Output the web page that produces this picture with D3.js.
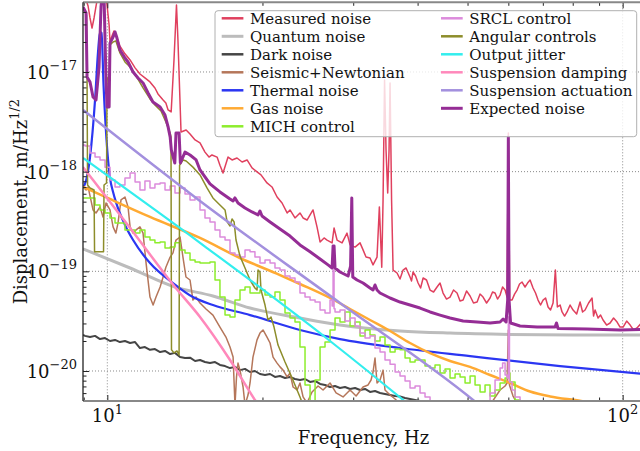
<!DOCTYPE html>
<html><head><meta charset="utf-8">
<script src="https://cdn.jsdelivr.net/npm/d3@7"></script>
<style>
html,body{margin:0;padding:0;background:#fff;}
svg{display:block;font-family:"DejaVu Serif",serif;}
</style></head><body>
<svg id="chart" width="640" height="451"></svg>
<script>
// ---------- axes / ticks ----------
const xDomain = [8.97, 110];
const yDomain = [5e-21, 5e-17];
const xTickValues = [10, 100];
const xTickExponents = ["1", "2"];
const yTickValues = [1e-20, 1e-19, 1e-18, 1e-17];
const yTickExponents = ["\u221220", "\u221219", "\u221218", "\u221217"];
const xLabel = "Frequency, Hz";
const yLabelMain = "Displacement, m/Hz";
const yLabelSup = "1/2";

// ---------- series data: [frequency Hz, displacement m/Hz^1/2] ----------
const measuredNoise = [[8.97,6.35e-17],[9.093,5.28e-17],[9.176,4.59e-17],[9.256,3.48e-17],[9.339,2.76e-17],[9.424,3.48e-17],[9.508,4.59e-17],[9.593,5.92e-17],[9.854,6.65e-17],[9.987,4.70e-17],[10.08,2.96e-17],[10.12,2.00e-17],[10.21,2.30e-17],[10.30,2.58e-17],[10.39,2.35e-17],[10.58,1.82e-17],[10.82,1.52e-17],[11.07,1.32e-17],[11.32,1.10e-17],[11.57,9.55e-18],[11.83,8.71e-18],[12.10,7.94e-18],[12.37,6.91e-18],[12.54,6.02e-18],[12.83,5.24e-18],[12.99,4.88e-18],[13.12,4.16e-18],[13.30,3.97e-18],[13.47,1.32e-17],[13.62,4.70e-17],[13.71,2.09e-17],[13.90,2.50e-18],[14.22,2.62e-18],[14.47,2.39e-18],[14.80,2.08e-18],[15.13,1.94e-18],[15.47,1.57e-18],[15.75,1.40e-18],[15.96,1.47e-18],[16.33,1.40e-18],[16.54,1.16e-18],[16.77,9.70e-19],[17.15,1.40e-18],[17.46,1.31e-18],[17.85,1.37e-18],[18.26,1.25e-18],[18.67,1.31e-18],[19.09,1.09e-18],[19.52,9.93e-19],[19.87,9.27e-19],[20.41,7.70e-19],[20.87,7.02e-19],[21.35,5.57e-19],[21.83,4.85e-19],[22.33,3.85e-19],[22.62,4.13e-19],[23.13,3.43e-19],[23.65,3.85e-19],[23.98,3.43e-19],[24.41,3.27e-19],[24.74,3.68e-19],[25.07,4.13e-19],[25.52,2.79e-19],[25.87,1.97e-19],[26.34,2.16e-19],[26.69,2.06e-19],[27.30,1.93e-19],[27.54,2.72e-19],[27.91,2.06e-19],[28.54,1.93e-19],[29.18,2.42e-19],[29.58,1.84e-19],[30.25,1.75e-19],[30.93,1.93e-19],[31.35,1.64e-19],[31.77,1.39e-19],[32.34,1.36e-19],[32.78,1.16e-19],[33.37,1.39e-19],[33.72,4.43e-19],[34.08,1.10e-19],[34.28,5.20e-19],[34.51,8.31e-18],[34.74,1.65e-18],[35.0,6.11e-19],[35.21,1.65e-18],[35.37,7.76e-18],[35.61,5.20e-19],[35.85,1.03e-19],[36.49,9.62e-20],[36.98,8.37e-20],[37.49,1.03e-19],[37.99,1.08e-19],[38.67,8.77e-20],[38.93,8.00e-20],[39.19,9.84e-20],[39.64,8.97e-20],[40.09,7.63e-20],[40.54,6.80e-20],[41.0,8.57e-20],[41.63,8.18e-20],[42.29,6.49e-20],[42.96,6.20e-20],[43.63,6.96e-20],[44.22,7.63e-20],[44.82,6.06e-20],[45.52,5.27e-20],[46.24,5.52e-20],[46.97,6.49e-20],[47.71,6.06e-20],[48.36,5.04e-20],[49.02,5.15e-20],[49.78,6.36e-20],[50.57,5.65e-20],[51.35,4.81e-20],[52.18,4.92e-20],[52.88,5.91e-20],[53.59,5.52e-20],[54.44,4.81e-20],[55.29,5.40e-20],[55.91,6.20e-20],[56.54,6.06e-20],[57.17,5.27e-20],[57.82,5.78e-20],[58.48,6.96e-20],[59.13,6.49e-20],[59.66,5.52e-20],[60.0,2.44e-18],[60.36,5.15e-20],[61.0,5.15e-20],[61.69,5.91e-20],[62.38,6.49e-20],[63.08,7.46e-20],[63.79,7.81e-20],[64.65,6.96e-20],[65.38,7.63e-20],[66.12,8.18e-20],[67.0,6.80e-20],[67.75,6.06e-20],[68.52,5.15e-20],[69.3,4.59e-20],[70.07,5.15e-20],[70.86,5.40e-20],[71.65,4.39e-20],[72.45,4.09e-20],[73.27,4.81e-20],[74.03,1.03e-19],[74.69,4.39e-20],[75.61,4.59e-20],[76.28,3.91e-20],[77.14,3.56e-20],[78.0,3.91e-20],[79.06,4.59e-20],[80.13,4.09e-20],[81.42,3.73e-20],[82.67,4.92e-20],[83.6,3.91e-20],[84.54,4.09e-20],[85.88,4.81e-20],[87.22,5.40e-20],[87.8,3.56e-20],[88.41,4.09e-20],[89.59,3.40e-20],[90.6,3.64e-20],[91.61,3.25e-20],[93.08,2.89e-20],[94.53,3.03e-20],[96.02,3.40e-20],[97.53,3.10e-20],[98.85,2.76e-20],[100.2,2.76e-20],[101.8,3.17e-20],[103.4,2.89e-20],[104.99,2.58e-20],[106.6,2.70e-20],[108.3,2.96e-20],[110,2.76e-20]];

const quantumNoise = [[8.97,1.68e-19],[11.07,1.08e-19],[13.53,6.96e-20],[16.03,5.65e-20],[18.92,4.28e-20],[23.65,3.40e-20],[28.28,2.89e-20],[36.98,2.52e-20],[46.24,2.40e-20],[60.46,2.33e-20],[80,2.30e-20],[110,2.29e-20]];

const darkNoise = [[8.971,2.30e-20],[9.051,2.25e-20],[9.256,2.19e-20],[9.466,2.25e-20],[9.679,2.09e-20],[9.898,2.14e-20],[10.12,2.00e-20],[10.35,2.05e-20],[10.58,1.95e-20],[10.82,2.00e-20],[11.07,1.91e-20],[11.32,1.95e-20],[11.57,1.70e-20],[11.83,1.74e-20],[12.10,1.63e-20],[12.37,1.66e-20],[12.66,1.55e-20],[12.94,1.59e-20],[13.24,1.48e-20],[13.53,1.52e-20],[13.84,1.38e-20],[14.15,1.35e-20],[14.47,1.36e-20],[14.80,1.26e-20],[15.13,1.29e-20],[15.47,1.23e-20],[15.82,1.20e-20],[16.18,1.23e-20],[16.54,1.15e-20],[16.92,1.12e-20],[17.30,1.07e-20],[17.69,1.10e-20],[18.09,1.02e-20],[18.50,1.05e-20],[18.92,9.77e-21],[19.34,1.00e-20],[19.78,9.33e-21],[20.23,9.12e-21],[20.69,9.33e-21],[21.15,8.71e-21],[21.63,8.91e-21],[22.12,8.51e-21],[22.62,8.71e-21],[23.13,8.31e-21],[23.65,8.12e-21],[24.19,8.31e-21],[24.74,7.76e-21],[25.30,7.94e-21],[25.87,7.41e-21],[26.45,7.24e-21],[27.05,6.91e-21],[27.66,7.07e-21],[28.28,6.75e-21],[28.92,6.91e-21],[29.58,6.60e-21],[30.25,6.75e-21],[30.93,6.45e-21],[31.63,6.60e-21],[32.34,6.16e-21],[33.07,6.30e-21],[33.82,6.02e-21],[34.58,5.88e-21],[35.37,5.74e-21],[36.17,5.61e-21],[36.98,5.55e-21],[37.82,5.36e-21],[38.67,5.24e-21],[39.55,5.12e-21],[40.44,5.00e-21],[41.35,4.78e-21],[42.29,4.57e-21]];

const seismicNewtonian = [[8.97,7.02e-19],[9.093,6.55e-19],[9.176,7.02e-19],[9.381,4.13e-19],[9.508,3.85e-19],[9.679,4.43e-19],[9.810,3.51e-19],[9.942,4.85e-19],[10.12,4.13e-19],[10.26,2.79e-19],[10.39,2.42e-19],[10.49,3.06e-19],[10.63,5.20e-19],[10.82,5.57e-19],[10.97,4.43e-19],[11.07,2.79e-19],[11.22,2.42e-19],[11.37,2.60e-19],[11.57,2.79e-19],[11.73,2.42e-19],[11.89,1.21e-19],[12.10,5.52e-20],[12.27,4.59e-20],[12.43,5.52e-20],[12.66,6.96e-20],[12.83,8.77e-20],[12.99,1.10e-19],[13.24,1.39e-19],[13.41,1.53e-19],[13.59,2.06e-19],[13.84,2.21e-19],[14.02,1.39e-19],[14.21,8.77e-20],[14.47,8.18e-20],[14.66,5.15e-20],[14.86,5.52e-20],[15.13,4.81e-20],[15.54,4.19e-20],[16.03,3.64e-20],[16.54,2.76e-20],[16.99,2.19e-20],[17.30,1.74e-20],[17.54,1.38e-20],[17.69,4.56e-21],[17.81,8.71e-21],[17.93,1.20e-20],[18.09,1.02e-20],[18.34,6.91e-21],[18.50,4.56e-21],[18.75,5.74e-21],[18.92,7.58e-21],[19.17,1.38e-20],[19.52,2.05e-20],[19.78,2.40e-20],[20.05,2.58e-20],[20.41,2.19e-20],[20.69,1.91e-20],[20.97,1.38e-20],[21.35,1.20e-20],[21.63,1.10e-20],[21.93,1.02e-20],[22.33,8.71e-21],[22.62,9.55e-21],[22.93,6.91e-21],[23.35,6.45e-21],[23.65,7.58e-21],[23.98,5.49e-21],[24.41,4.78e-21],[24.96,6.16e-21],[25.64,7.07e-21],[26.22,6.45e-21],[27.05,7.58e-21],[27.79,6.02e-21],[28.67,5.49e-21],[29.58,6.45e-21],[30.39,5.61e-21],[31.35,6.91e-21],[32.06,7.24e-21],[32.49,8.12e-21],[32.78,9.77e-21],[33.07,1.35e-20],[33.37,7.58e-21],[33.82,8.12e-21],[34.28,1.02e-20],[34.58,6.45e-21],[35.37,5.74e-21],[36.17,5.24e-21],[36.98,4.67e-21],[42.3,4.0e-21],[50.6,4.0e-21],[55.29,4.56e-21],[57.82,6.45e-21],[59.13,7.07e-21],[59.66,7.58e-21],[60.0,2.58e-20],[60.3,7.24e-21],[61.27,5.61e-21],[62.66,4.56e-21]];

const thermalNoise = [[8.97,7.0e-19],[9.051,7.53e-19],[9.256,1.40e-18],[9.466,5.24e-18],[9.593,1.59e-17],[9.679,2.52e-17],[9.744,2.46e-17],[9.832,7.41e-18],[9.964,2.08e-18],[10.12,8.65e-19],[10.26,6.26e-19],[10.39,4.97e-19],[10.82,2.92e-19],[11.22,2.06e-19],[12.10,1.21e-19],[13.41,7.63e-20],[14.66,5.52e-20],[16.03,4.59e-20],[18.92,3.64e-20],[23.65,2.58e-20],[28.28,2.09e-20],[36.98,1.70e-20],[50.57,1.41e-20],[75.61,1.12e-20],[110,9.33e-21]];

const gasNoise = [[8.97,7.02e-19],[9.81,5.70e-19],[12.10,3.51e-19],[15.13,2.16e-19],[18.09,1.36e-19],[21.63,9.18e-20],[23.65,7.46e-20],[27.05,5.40e-20],[29.58,4.19e-20],[32.34,3.25e-20],[35.37,2.52e-20],[38.67,1.91e-20],[42.29,1.51e-20],[46.24,1.26e-20],[50.57,1.10e-20],[55.29,9.12e-21],[60.46,7.58e-21],[66.12,6.23e-21],[72.30,5.55e-21],[83.04,5.00e-21],[94.53,4.35e-21]];

const michControl = [[8.971,5.45e-19],[9.051,5.45e-19],[9.256,5.45e-19],[9.466,4.63e-19],[9.679,4.13e-19],[9.898,3.85e-19],[10.12,3.43e-19],[10.35,3.06e-19],[10.58,3.06e-19],[10.82,2.60e-19],[11.07,2.60e-19],[11.32,2.42e-19],[11.57,2.60e-19],[11.83,2.21e-19],[12.10,2.06e-19],[12.37,1.93e-19],[12.66,1.97e-19],[12.94,1.71e-19],[13.24,1.75e-19],[13.53,1.93e-19],[13.84,1.64e-19],[14.15,1.53e-19],[14.47,1.30e-19],[14.80,1.24e-19],[15.13,1.21e-19],[15.47,1.21e-19],[15.82,1.24e-19],[16.18,8.18e-20],[16.54,5.52e-20],[16.92,3.64e-20],[17.30,3.48e-20],[17.69,5.15e-20],[18.09,6.49e-20],[18.50,6.96e-20],[18.92,6.06e-20],[19.34,6.06e-20],[19.78,6.49e-20],[20.23,5.78e-20],[20.69,5.52e-20],[21.15,6.20e-20],[21.63,5.15e-20],[22.12,3.82e-20],[22.62,3.40e-20],[23.13,3.10e-20],[23.65,1.74e-20],[24.19,7.24e-21],[24.74,4.56e-21],[25.30,8.12e-21],[25.87,1.74e-20],[26.45,1.95e-20],[27.05,2.58e-20],[27.66,3.40e-20],[28.28,3.10e-20],[28.92,3.91e-20],[29.58,2.83e-20],[30.25,3.10e-20],[30.93,2.25e-20],[31.63,2.58e-20],[32.34,2.30e-20],[33.07,2.00e-20],[33.82,2.19e-20],[34.58,1.82e-20],[35.37,1.55e-20],[36.17,1.66e-20],[36.98,1.63e-20],[37.82,1.35e-20],[38.67,1.23e-20],[39.55,1.29e-20],[40.44,1.29e-20],[41.35,1.12e-20],[42.29,1.07e-20],[43.24,1.15e-20],[44.22,9.55e-21],[45.22,1.05e-20],[46.24,8.51e-21],[47.29,9.33e-21],[48.36,8.71e-21],[49.45,7.58e-21],[50.57,8.91e-21],[51.71,7.24e-21],[52.88,6.16e-21],[54.07,7.24e-21],[55.29,5.61e-21],[56.54,6.45e-21],[57.82,7.58e-21],[59.13,8.51e-21],[60.0,9.55e-21],[60.46,7.76e-21],[61.83,5.12e-21],[63.22,4.1e-21]];

const srclControl = [[8.971,1.85e-18],[9.051,1.81e-18],[9.256,1.54e-18],[9.466,1.40e-18],[9.679,1.31e-18],[9.898,1.11e-18],[10.12,8.26e-19],[10.35,7.02e-19],[10.58,7.35e-19],[10.82,8.65e-19],[11.07,9.70e-19],[11.32,7.88e-19],[11.57,6.55e-19],[11.83,8.07e-19],[12.10,6.86e-19],[12.37,7.53e-19],[12.66,7.70e-19],[12.94,6.55e-19],[13.24,7.19e-19],[13.53,6.11e-19],[13.84,6.86e-19],[14.15,5.97e-19],[14.47,5.20e-19],[14.80,5.57e-19],[15.13,4.13e-19],[15.47,3.43e-19],[15.82,3.13e-19],[16.18,2.60e-19],[16.54,2.21e-19],[16.92,2.06e-19],[17.30,1.53e-19],[17.69,1.46e-19],[18.09,1.39e-19],[18.50,1.64e-19],[18.92,1.57e-19],[19.34,1.39e-19],[19.78,1.21e-19],[20.23,1.30e-19],[20.69,1.21e-19],[21.15,1.08e-19],[21.63,1.03e-19],[22.12,8.97e-20],[22.62,8.57e-20],[23.13,7.81e-20],[23.65,6.06e-20],[24.19,5.52e-20],[24.74,5.15e-20],[25.30,4.92e-20],[25.87,4.09e-20],[26.45,3.82e-20],[27.05,5.15e-20],[27.30,4.5e-20],[27.42,1.03e-19],[27.54,4.2e-20],[27.66,3.91e-20],[28.28,4.09e-20],[28.92,3.17e-20],[29.58,3.40e-20],[30.25,2.83e-20],[30.93,2.40e-20],[31.63,2.14e-20],[32.34,2.25e-20],[33.07,1.70e-20],[33.82,1.55e-20],[34.58,1.29e-20],[35.37,1.17e-20],[36.17,9.77e-21],[36.98,8.91e-21],[37.82,7.94e-21],[38.67,6.75e-21],[39.55,7.07e-21],[40.44,6.02e-21],[41.35,5.49e-21],[42.29,5.00e-21],[43.24,4.56e-21],[44.22,3.9e-21],[46.24,3.6e-21],[49.45,3.8e-21],[52.88,4.2e-21],[54.07,4.56e-21],[55.29,6.02e-21],[56.54,8.12e-21],[57.82,1.07e-20],[58.48,1.20e-20],[59.13,9.12e-21],[59.66,8.51e-21],[60.0,3.48e-20],[60.3,7.76e-21],[61.0,6.45e-21],[61.83,5.49e-21],[63.22,4.78e-21],[64.65,4.1e-21]];

const angularControls = [[8.97,4.39e-17],[9.051,4.00e-17],[9.113,3.73e-17],[9.134,8.71e-18],[9.155,7.35e-19],[9.256,6.86e-19],[9.424,6.55e-19],[9.445,1.57e-19],[9.832,1.57e-19],[9.854,7.35e-19],[9.964,7.70e-19],[9.987,8.31e-18],[10.08,9.33e-18],[10.12,1.87e-17],[10.26,2.00e-17],[10.39,2.05e-17],[10.58,1.55e-17],[10.82,1.26e-17],[11.07,1.12e-17],[11.37,9.12e-18],[11.73,6.91e-18],[12.10,5.36e-18],[12.37,4.67e-18],[12.71,4.06e-18],[12.99,3.15e-18],[13.24,2.44e-18],[13.29,2.23e-18],[13.32,1.63e-20],[13.47,1.52e-20],[13.65,1.59e-20],[13.78,1.45e-20],[13.81,1.16e-18],[14.03,1.31e-18],[14.22,1.28e-18],[14.66,1.11e-18],[15.13,9.27e-19],[15.61,6.86e-19],[16.03,5.45e-19],[16.54,4.63e-19],[16.92,4.13e-19],[17.08,3.13e-19],[17.30,2.85e-19],[17.46,3.35e-19],[17.62,3.13e-19],[17.77,2.06e-19],[18.09,1.42e-19],[18.50,1.08e-19],[18.92,8.18e-20],[19.34,6.80e-20],[19.52,6.49e-20],[19.61,1.03e-19],[19.78,9.84e-20],[19.87,6.49e-20],[20.23,4.59e-20],[20.50,3.25e-20],[20.78,3.48e-20],[21.06,2.76e-20],[21.44,1.82e-20],[22.12,1.23e-20],[22.83,8.51e-21],[23.65,5.49e-21],[24.19,4.06e-21]];

const outputJitter = [[8.97,1.37e-18],[15.13,1.93e-19],[27.05,2.00e-20],[37.49,5.12e-21],[40.44,3.70e-21]];

const suspensionDamping = [[8.97,1.11e-18],[9.381,8.26e-19],[11.07,2.72e-19],[13.53,6.96e-20],[15.13,3.48e-20],[17.30,1.29e-20],[19.34,5.12e-21],[20.23,3.62e-21]];

const suspensionActuation = [[8.97,4.16e-18],[15.13,5.08e-19],[28.28,4.81e-20],[51.25,5.12e-21],[55.29,3.7e-21]];

const expectedNoise = [[8.97,4.49e-17],[9.093,3.91e-17],[9.134,8.91e-18],[9.256,7.94e-18],[9.381,5.61e-18],[9.508,5.24e-18],[9.636,1.12e-17],[9.722,4.49e-17],[9.766,5.92e-17],[9.854,5.92e-17],[9.898,2.09e-17],[9.942,8.31e-18],[9.987,4.46e-18],[10.08,4.46e-18],[10.12,1.95e-17],[10.26,2.24e-17],[10.35,2.52e-17],[10.44,2.19e-17],[10.58,1.66e-17],[10.82,1.38e-17],[10.97,1.26e-17],[11.22,1.00e-17],[11.47,8.71e-18],[11.73,7.76e-18],[11.996,6.16e-18],[12.26,5.00e-18],[12.66,4.46e-18],[12.94,3.70e-18],[13.12,2.81e-18],[13.24,2.23e-18],[13.31,1.65e-18],[13.52,1.22e-18],[13.59,2.44e-18],[13.78,2.44e-18],[13.86,1.22e-18],[14.15,1.57e-18],[14.47,1.47e-18],[14.87,1.31e-18],[15.13,1.04e-18],[15.47,8.85e-19],[15.82,7.53e-19],[16.54,6.26e-19],[17.30,5.32e-19],[17.54,5.08e-19],[17.69,5.45e-19],[17.93,4.85e-19],[18.50,4.32e-19],[19.09,3.94e-19],[19.61,3.68e-19],[19.78,4.03e-19],[19.96,3.59e-19],[20.69,3.13e-19],[21.63,2.66e-19],[22.62,2.26e-19],[23.65,1.84e-19],[24.74,1.57e-19],[25.87,1.33e-19],[26.81,1.16e-19],[27.30,1.08e-19],[27.42,1.80e-19],[27.54,1.80e-19],[27.66,1.08e-19],[28.28,9.84e-20],[29.32,8.97e-20],[29.65,1.13e-19],[29.81,5.45e-19],[29.94,8.77e-20],[30.52,8.18e-20],[31.35,7.63e-20],[32.34,6.80e-20],[32.78,6.49e-20],[33.07,7.29e-20],[33.37,6.49e-20],[33.82,6.06e-20],[35.37,5.40e-20],[36.98,4.92e-20],[38.67,4.59e-20],[40.44,4.28e-20],[42.29,3.91e-20],[44.22,3.64e-20],[46.24,3.40e-20],[49.02,3.17e-20],[52.18,3.10e-20],[55.29,3.03e-20],[57.82,3.10e-20],[58.61,3.32e-20],[59.39,3.10e-20],[59.82,5.15e-20],[60.0,2.23e-18],[60.19,5.15e-20],[60.6,3.03e-20],[63.22,2.83e-20],[68.22,2.76e-20],[73.94,2.76e-20],[74.4,3.03e-20],[74.91,2.67e-20],[85.3,2.64e-20],[98.85,2.58e-20],[110,2.61e-20]];

// ---------- rendering ----------
const svg = d3.select("#chart");
const plotLeft = 83, plotRight = 644, plotTop = 2.3, plotBottom = 401;
const x = d3.scaleLog().domain(xDomain).range([plotLeft, plotRight]);
const y = d3.scaleLog().domain(yDomain).range([plotBottom, plotTop]);

svg.append("defs").append("clipPath").attr("id","clip")
  .append("rect").attr("x",plotLeft).attr("y",plotTop)
  .attr("width",plotRight-plotLeft).attr("height",plotBottom-plotTop);

// grid
const grid = svg.append("g");
grid.selectAll("line.gx").data(xTickValues).join("line")
  .attr("x1",d=>x(d)).attr("x2",d=>x(d)).attr("y1",plotTop).attr("y2",plotBottom)
  .attr("stroke","#8a8a8a").attr("stroke-width",1).attr("stroke-dasharray","1,2");
grid.selectAll("line.gy").data(yTickValues).join("line")
  .attr("x1",plotLeft).attr("x2",plotRight).attr("y1",d=>y(d)).attr("y2",d=>y(d))
  .attr("stroke","#8a8a8a").attr("stroke-width",1).attr("stroke-dasharray","1,2");

const series = [
  {name:"Measured noise", data:measuredNoise, color:"#e0405e", width:1.5, curve:d3.curveLinear},
  {name:"Quantum noise", data:quantumNoise, color:"#bcbcbc", width:3, curve:d3.curveMonotoneX},
  {name:"Dark noise", data:darkNoise, color:"#454545", width:2, curve:d3.curveLinear},
  {name:"Seismic+Newtonian", data:seismicNewtonian, color:"#b5765a", width:1.5, curve:d3.curveLinear},
  {name:"Thermal noise", data:thermalNoise, color:"#2b36f2", width:2.2, curve:d3.curveMonotoneX},
  {name:"Gas noise", data:gasNoise, color:"#ffaa33", width:2.5, curve:d3.curveMonotoneX},
  {name:"MICH control", data:michControl, color:"#8ded2c", width:1.5, curve:d3.curveStepAfter},
  {name:"SRCL control", data:srclControl, color:"#dc8bdc", width:1.5, curve:d3.curveStepAfter},
  {name:"Angular controls", data:angularControls, color:"#8d8d2a", width:1.5, curve:d3.curveLinear},
  {name:"Output jitter", data:outputJitter, color:"#33eeee", width:2.2, curve:d3.curveMonotoneX},
  {name:"Suspension damping", data:suspensionDamping, color:"#ff88bb", width:2.5, curve:d3.curveMonotoneX},
  {name:"Suspension actuation", data:suspensionActuation, color:"#a390de", width:2.5, curve:d3.curveMonotoneX},
  {name:"Expected noise", data:expectedNoise, color:"#952d95", width:3, curve:d3.curveLinear}
];

const plot = svg.append("g").attr("clip-path","url(#clip)");
series.forEach(s=>{
  const line = d3.line().x(d=>x(d[0])).y(d=>y(d[1])).curve(s.curve);
  plot.append("path").datum(s.data).attr("d",line)
    .attr("fill","none").attr("stroke",s.color).attr("stroke-width",s.width)
    .attr("stroke-linejoin","round");
});

// ticks (inside)
const minorX = [];
[1,10,100].forEach(b=>{for(let m=2;m<=9;m++){const v=b*m; if(v>xDomain[0]&&v<xDomain[1]) minorX.push(v);}});
const minorY = [];
[1e-21,1e-20,1e-19,1e-18,1e-17].forEach(b=>{for(let m=2;m<=9;m++){const v=b*m; if(v>yDomain[0]*1.0001&&v<yDomain[1]*0.9999) minorY.push(v);}});

function addAxis(axisGen, transform){
  const g = svg.append("g").attr("transform",transform).call(axisGen);
  g.select(".domain").remove();
  g.selectAll("text").remove();
  g.selectAll(".tick line").attr("stroke","#222").attr("stroke-width",1);
}
addAxis(d3.axisBottom(x).tickValues(xTickValues).tickSize(-6), `translate(0,${plotBottom})`);
addAxis(d3.axisBottom(x).tickValues(minorX).tickSize(-3.5), `translate(0,${plotBottom})`);
addAxis(d3.axisTop(x).tickValues(xTickValues).tickSize(-6), `translate(0,${plotTop})`);
addAxis(d3.axisTop(x).tickValues(minorX).tickSize(-3.5), `translate(0,${plotTop})`);
addAxis(d3.axisLeft(y).tickValues(yTickValues).tickSize(-6), `translate(${plotLeft},0)`);
addAxis(d3.axisLeft(y).tickValues(minorY).tickSize(-3.5), `translate(${plotLeft},0)`);

// spines
const sp = svg.append("g");
sp.append("line").attr("x1",plotLeft).attr("x2",plotRight).attr("y1",plotTop).attr("y2",plotTop).attr("stroke","#888").attr("stroke-width",2);
sp.append("line").attr("x1",plotLeft).attr("x2",plotRight).attr("y1",plotBottom).attr("y2",plotBottom).attr("stroke","#888").attr("stroke-width",2);
sp.append("line").attr("x1",plotLeft).attr("x2",plotLeft).attr("y1",plotTop).attr("y2",plotBottom).attr("stroke","#222").attr("stroke-width",1.3);

// tick labels
const xl = svg.append("g").attr("font-size",18).attr("fill","#111");
xTickValues.forEach((v,i)=>{
  const t = xl.append("text").attr("x",x(v)).attr("y",422).attr("text-anchor","middle");
  t.append("tspan").text("10");
  t.append("tspan").attr("dy",-8).attr("font-size",13).text(xTickExponents[i]);
});
yTickValues.forEach((v,i)=>{
  const t = xl.append("text").attr("x",77).attr("y",y(v)+7).attr("text-anchor","end");
  t.append("tspan").text("10");
  t.append("tspan").attr("dy",-9).attr("font-size",13).text(yTickExponents[i]);
});

// axis labels
svg.append("text").attr("x",(plotLeft+plotRight)/2).attr("y",444).attr("text-anchor","middle")
  .attr("font-size",18).attr("fill","#111").text(xLabel);
const yl = svg.append("text").attr("transform",`translate(27,${(plotTop+plotBottom)/2}) rotate(-90)`)
  .attr("text-anchor","middle").attr("font-size",18).attr("fill","#111");
yl.append("tspan").text(yLabelMain);
yl.append("tspan").attr("dy",-8).attr("font-size",13).text(yLabelSup);

// legend
const lg = svg.append("g");
lg.append("rect").attr("x",215).attr("y",10.7).attr("width",421.7).attr("height",126)
  .attr("rx",3).attr("fill","#fff").attr("fill-opacity",0.8).attr("stroke","#b0b0b0").attr("stroke-width",1);
series.forEach((s,i)=>{
  const col = i<7?0:1, row = i<7?i:i-7;
  const hx = col===0?221.7:441, tx = col===0?250:469.3;
  const ry = 18.3 + row*18;
  lg.append("line").attr("x1",hx).attr("x2",hx+21.7).attr("y1",ry).attr("y2",ry)
    .attr("stroke",s.color).attr("stroke-width",Math.max(2.5,s.width));
  lg.append("text").attr("x",tx).attr("y",ry+5.5).attr("font-size",15).attr("fill","#111").text(s.name);
});
</script>
</body></html>
